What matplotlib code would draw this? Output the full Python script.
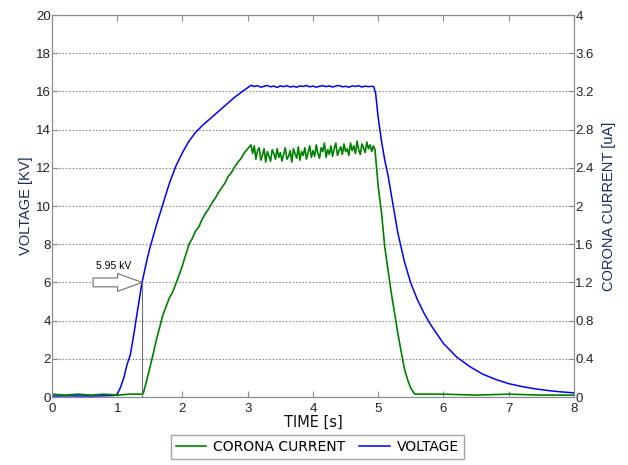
import numpy as np
import matplotlib
matplotlib.use("Agg")
import matplotlib.pyplot as plt

# ---- voltage [kV] ----
volt_t_rise = [0, 0.3, 0.6, 0.95, 1.0, 1.05, 1.1, 1.15, 1.2, 1.25, 1.3, 1.38, 1.45, 1.5,
               1.6, 1.7, 1.8, 1.9, 2.0, 2.1, 2.2, 2.3, 2.4, 2.5, 2.6, 2.7, 2.8, 2.9, 3.0]
volt_rise = [0.05, 0.06, 0.05, 0.08, 0.15, 0.5, 1.0, 1.7, 2.2, 3.2, 4.3, 6.0, 7.1, 7.8,
             9.0, 10.1, 11.2, 12.1, 12.8, 13.4, 13.85, 14.2, 14.5, 14.8, 15.1, 15.4, 15.7, 15.95, 16.2]
volt_flat = [16.32, 16.26, 16.30, 16.22, 16.27, 16.31, 16.24, 16.28, 16.21, 16.29,
             16.25, 16.30, 16.23, 16.27, 16.22, 16.29, 16.26, 16.31, 16.24, 16.28,
             16.22, 16.27, 16.30, 16.25, 16.29, 16.23, 16.28, 16.31, 16.24, 16.27,
             16.22, 16.29, 16.26, 16.30, 16.23, 16.28, 16.25, 16.27]
volt_t_fall = [4.93, 4.96, 5.0, 5.05, 5.1, 5.15, 5.2, 5.3, 5.4, 5.5, 5.6, 5.7, 5.8, 5.9,
               6.0, 6.2, 6.4, 6.6, 6.8, 7.0, 7.2, 7.4, 7.6, 7.8, 8.0]
volt_fall = [16.25, 15.9, 14.6, 13.4, 12.4, 11.6, 10.6, 8.6, 7.1, 5.95, 5.1, 4.4, 3.8, 3.3,
             2.8, 2.1, 1.6, 1.2, 0.92, 0.7, 0.55, 0.43, 0.34, 0.27, 0.22]

# ---- corona current [uA] ----
curr_t_rise = [0, 0.2, 0.4, 0.6, 0.8, 1.0, 1.2, 1.38, 1.40, 1.45, 1.50, 1.55, 1.60, 1.65,
               1.70, 1.75, 1.80, 1.85, 1.90, 1.95, 2.00, 2.05, 2.10, 2.15, 2.20, 2.25,
               2.30, 2.35, 2.40, 2.45, 2.50, 2.55, 2.60, 2.65, 2.70, 2.75, 2.80, 2.85,
               2.90, 2.95, 3.00, 3.05]
curr_rise = [0.03, 0.02, 0.03, 0.02, 0.03, 0.02, 0.03, 0.03, 0.04, 0.17, 0.31, 0.45, 0.60, 0.73,
             0.86, 0.95, 1.04, 1.10, 1.19, 1.28, 1.38, 1.49, 1.60, 1.66, 1.74, 1.78,
             1.86, 1.92, 1.97, 2.03, 2.08, 2.14, 2.19, 2.24, 2.31, 2.35, 2.41, 2.46,
             2.50, 2.56, 2.60, 2.64]
curr_flat = [2.55, 2.63, 2.49, 2.58, 2.61, 2.48, 2.53, 2.60, 2.46, 2.57, 2.52, 2.47, 2.59, 2.55,
             2.49, 2.60, 2.51, 2.56,
             2.47, 2.54, 2.61, 2.49, 2.52, 2.58, 2.46, 2.60, 2.55, 2.50, 2.62, 2.48, 2.57, 2.53,
             2.61, 2.49, 2.56, 2.63, 2.51, 2.58,
             2.52, 2.64, 2.55, 2.50, 2.61, 2.57, 2.66, 2.51, 2.59, 2.54, 2.63, 2.52, 2.60, 2.66,
             2.53, 2.58, 2.62, 2.54, 2.65, 2.57,
             2.60, 2.53, 2.66, 2.58, 2.63, 2.55, 2.68, 2.59, 2.54, 2.65, 2.61, 2.56, 2.67, 2.60,
             2.64, 2.57, 2.63]
curr_t_fall = [4.95, 5.0, 5.05, 5.1, 5.15, 5.2, 5.25, 5.3, 5.35, 5.4, 5.45, 5.5, 5.56,
               6.0, 6.5, 7.0, 7.5, 8.0]
curr_fall = [2.59, 2.2, 1.93, 1.57, 1.33, 1.09, 0.88, 0.67, 0.48, 0.30, 0.18, 0.09, 0.03,
             0.03, 0.02, 0.03, 0.02, 0.02]

# stitch segments (flat parts sampled evenly between the segment ends)
volt_t = volt_t_rise + list(np.linspace(3.05, 4.90, len(volt_flat))) + volt_t_fall
volt = volt_rise + volt_flat + volt_fall
curr_t = curr_t_rise + list(np.linspace(3.075, 4.925, len(curr_flat))) + curr_t_fall
curr = curr_rise + curr_flat + curr_fall

label_col = "#1b2a5c"
spine_col = "#8c8c8c"

fig = plt.figure(figsize=(6.28, 4.65), dpi=100)
ax = fig.add_subplot(111)
ax2 = ax.twinx()
fig.subplots_adjust(left=0.0828, right=0.914, bottom=0.1462, top=0.9677)

lv, = ax.plot(volt_t, volt, color="#0000ff", lw=1.1, label="VOLTAGE")
lc, = ax2.plot(curr_t, curr, color="#008000", lw=1.2, label="CORONA CURRENT")

ax.set_xlim(0, 8)
ax.set_ylim(0, 20)
ax2.set_ylim(0, 4)
ax.set_xticks(range(0, 9))
ax.set_yticks(range(0, 21, 2))
ax2.set_yticks([0, 0.4, 0.8, 1.2, 1.6, 2, 2.4, 2.8, 3.2, 3.6, 4])
ax2.set_yticklabels(["0", "0.4", "0.8", "1.2", "1.6", "2", "2.4", "2.8", "3.2", "3.6", "4"])

ax.yaxis.grid(True, linestyle=(0, (1.5, 1.5)), color="#909090", lw=0.8)

for a in (ax, ax2):
    for s in a.spines.values():
        s.set_color(spine_col)
    a.tick_params(direction="in", length=4, color=spine_col, labelsize=9.5,
                  labelcolor="#222222", pad=1)
ax.tick_params(axis="x", pad=4.5)
ax.xaxis.set_ticks_position("both")
for lab in ax.get_xticklabels() + ax.get_yticklabels() + ax2.get_yticklabels():
    lab.set_family("Liberation Sans")

ax.set_xlabel("TIME [s]", fontsize=10.5, family="DejaVu Sans", color="#111111", labelpad=0)
ax.set_ylabel("VOLTAGE [KV]", fontsize=10.5, family="Liberation Sans", color=label_col, labelpad=2)
ax2.set_ylabel("CORONA CURRENT [uA]", fontsize=10.5, family="Liberation Sans", color=label_col, labelpad=6)

# 5.95 kV marker
ax.plot([1.38, 1.38], [0, 6], color="#707070", lw=0.8)
ax.annotate("", xy=(1.38, 6), xytext=(0.63, 6),
            arrowprops=dict(arrowstyle="simple,head_length=1.1,head_width=0.8,tail_width=0.4",
                            fc="white", ec="#707070", lw=0.8, mutation_scale=16,
                            shrinkA=0, shrinkB=0))
ax.text(0.95, 6.85, "5.95 kV", fontsize=7.5, family="Liberation Sans", ha="center", va="center")

fig.legend(handles=[lc, lv], loc="center", bbox_to_anchor=(0.505, 0.038), ncol=2,
           frameon=True, fancybox=False, edgecolor="#8c8c8c", prop={"family": "DejaVu Sans", "size": 10},
           handlelength=2.2, columnspacing=1.0, borderpad=0.35, handletextpad=0.5)

fig.savefig("out.png", dpi=100)
